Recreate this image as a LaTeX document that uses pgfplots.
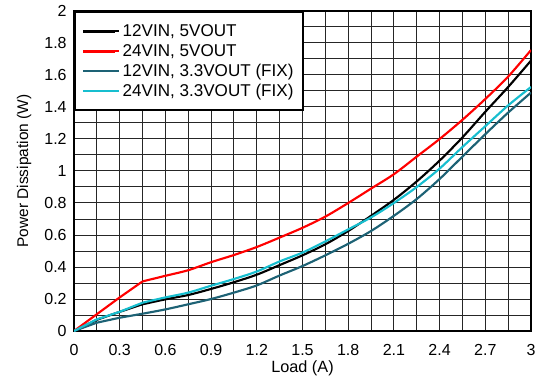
\documentclass[border=0pt]{standalone}
\usepackage{pgfplots}
\pgfplotsset{compat=1.18}
\usepackage{fontspec}
\setmainfont{Liberation Sans}
\definecolor{teal1}{HTML}{1D6275}
\definecolor{cyan1}{HTML}{17BECF}
\begin{document}
\begin{tikzpicture}
\begin{axis}[
  name=ax,
  scale only axis,
  width=342.75pt, height=240pt,
  xmin=0, xmax=3, ymin=0, ymax=2,
  xtick={0,0.3,...,3.01},
  xticklabels={0,0.3,0.6,0.9,1.2,1.5,1.8,2.1,2.4,2.7,3},
  ytick={0,0.2,...,2.01},
  yticklabels={0,0.2,0.4,0.6,0.8,1,1.2,1.4,1.6,1.8,2},
  minor x tick num=1, minor y tick num=1,
  grid=both,
  major grid style={black!85, line width=0.75pt},
  minor grid style={black!85, line width=0.75pt},
  tick style={draw=none},
  axis line style={line width=2.2pt},
  tick label style={font=\fontsize{12}{14}\selectfont},
  x tick label style={yshift=-6.5pt},
  y tick label style={xshift=-2pt},
  xlabel={Load (A)},
  ylabel={Power Dissipation (W)},
  xlabel style={font=\fontsize{12.2}{14}\selectfont, at={(axis description cs:0.5,-0.1156)}, anchor=center},
  ylabel style={font=\fontsize{11.6}{14}\selectfont, at={(axis description cs:-0.1094,0.5)}, anchor=center},
  legend style={at={(0,1)}, anchor=north west, draw=black, line width=1.5pt,
    font=\fontsize{12.8}{14}\selectfont, inner xsep=5pt, inner ysep=8pt,
    row sep=1.9pt,
    nodes={text height=9.2pt, text depth=1pt, inner ysep=1.4pt}},
  legend cell align=left,
  legend image code/.code={\path (0pt,0pt) -- (27pt,0pt);\draw[#1, line width=2pt] (0pt,0pt) -- (24pt,0pt);},
  every axis plot/.append style={line width=1.6pt},
]
% 12VIN, 5VOUT
\addplot[black, forget plot] coordinates {(0,0) (0.15,0.07) (0.3,0.12) (0.45,0.167)};
\addplot[black, smooth, tension=0.5] coordinates {
(0.45,0.167) (0.6,0.198) (0.75,0.225) (0.9,0.263)
(1.05,0.305) (1.2,0.352) (1.35,0.412) (1.5,0.473) (1.65,0.542) (1.8,0.625)
(1.95,0.72) (2.1,0.82) (2.25,0.935) (2.4,1.065) (2.55,1.21) (2.7,1.37)
(2.85,1.525) (3.0,1.69)};
\addlegendentry{12VIN, 5VOUT}
% 24VIN, 5VOUT
\addplot[red, forget plot] coordinates {(0,0) (0.15,0.105) (0.3,0.21) (0.45,0.31)};
\addplot[red, smooth, tension=0.5] coordinates {
(0.45,0.31) (0.6,0.345) (0.75,0.38) (0.9,0.43)
(1.05,0.475) (1.2,0.525) (1.35,0.584) (1.5,0.645) (1.65,0.715) (1.8,0.80)
(1.95,0.89) (2.1,0.98) (2.25,1.09) (2.4,1.2) (2.55,1.32) (2.7,1.45)
(2.85,1.59) (3.0,1.756)};
\addlegendentry{24VIN, 5VOUT}
% 12VIN, 3.3VOUT
\addplot[teal1, forget plot] coordinates {(0,0) (0.15,0.052) (0.3,0.083) (0.45,0.108)};
\addplot[teal1, smooth, tension=0.5] coordinates {
(0.45,0.108) (0.6,0.135) (0.75,0.167) (0.9,0.2)
(1.05,0.24) (1.2,0.285) (1.35,0.347) (1.5,0.406) (1.65,0.473) (1.8,0.545)
(1.95,0.625) (2.1,0.72) (2.25,0.825) (2.4,0.95) (2.55,1.09) (2.7,1.23)
(2.85,1.365) (3.0,1.49)};
\addlegendentry{12VIN, 3.3VOUT (FIX)}
% 24VIN, 3.3VOUT
\addplot[cyan1, forget plot] coordinates {(0,0) (0.15,0.073) (0.3,0.12) (0.45,0.177)};
\addplot[cyan1, smooth, tension=0.5] coordinates {
(0.45,0.177) (0.6,0.21) (0.75,0.24) (0.9,0.283)
(1.05,0.325) (1.2,0.372) (1.35,0.435) (1.5,0.49) (1.65,0.56) (1.8,0.635)
(1.95,0.71) (2.1,0.80) (2.25,0.90) (2.4,1.015) (2.55,1.15) (2.7,1.28)
(2.85,1.41) (3.0,1.525)};
\addlegendentry{24VIN, 3.3VOUT (FIX)}
\end{axis}
\useasboundingbox ([shift={(-55.5pt,-37.5pt)}]ax.south west) rectangle ([shift={(9pt,8.25pt)}]ax.north east);
\end{tikzpicture}
\end{document}
